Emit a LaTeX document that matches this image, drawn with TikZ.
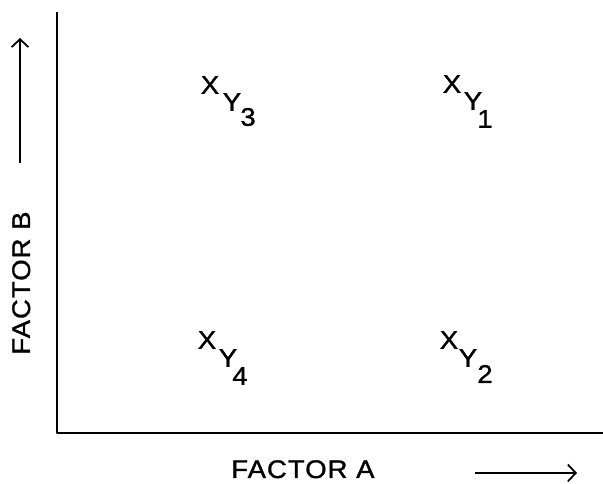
\documentclass[tikz,border=0pt]{standalone}
\usepackage{fontspec}
\setmainfont{Liberation Sans}
\newfontfamily\plotfont[FakeStretch=1.08, FakeBold=1.2]{Liberation Sans}
\usetikzlibrary{arrows.meta,calc}

\begin{document}
\begin{tikzpicture}[x=0.02cm, y=0.02cm,
    lbl/.style={inner sep=0pt, font=\plotfont\fontsize{14.5}{16}\selectfont},
    axlbl/.style={inner sep=0pt, font=\plotfont\fontsize{14.5}{16}\selectfont\addfontfeature{LetterSpace=4}},
    axis/.style={line width=1.7pt, line join=round},
    dirarrow/.style={line width=0.8pt, -{Straight Barb[length=1.6mm, width=3.4mm, line width=1pt]}}]
    \useasboundingbox (0,0) rectangle (603,484);

    % Axes
    \coordinate (orig) at (57,51);
    \coordinate (ytop) at (57,472);
    \coordinate (xend) at (603,51);
    \draw [axis] (ytop) -- (orig) -- (xend);

    % Axis labels
    \node (fa) [axlbl, anchor=base west] at (231,6) {FACTOR A};
    \node (fb) [axlbl, anchor=base west, rotate=90] at (30,129) {FACTOR B};

    % Direction arrows
    \coordinate (a0) at (475,11);
    \coordinate (a1) at (577,11);
    \coordinate (b0) at (20,321);
    \coordinate (b1) at (20,446);
    \draw [dirarrow] (a0) -- (a1);
    \draw [dirarrow] (b0) -- (b1);

    % Cells
    \node (x3) [lbl] at (210,399) {X};
    \node (y3) [lbl] at ($(x3)+(22,-17)$) {Y};
    \node (n3) [lbl] at ($(y3)+(16,-15)$) {3};

    \node (x1) [lbl] at (452,400) {X};
    \node (y1) [lbl] at ($(x1)+(21,-17)$) {Y};
    \node (n1) [lbl] at ($(y1)+(12,-18)$) {1};

    \node (x4) [lbl] at (207,144) {X};
    \node (y4) [lbl] at ($(x4)+(21,-18)$) {Y};
    \node (n4) [lbl] at ($(y4)+(12,-18)$) {4};

    \node (x2) [lbl] at (449,144) {X};
    \node (y2) [lbl] at ($(x2)+(19,-18)$) {Y};
    \node (n2) [lbl] at ($(y2)+(17,-16)$) {2};
\end{tikzpicture}
\end{document}
